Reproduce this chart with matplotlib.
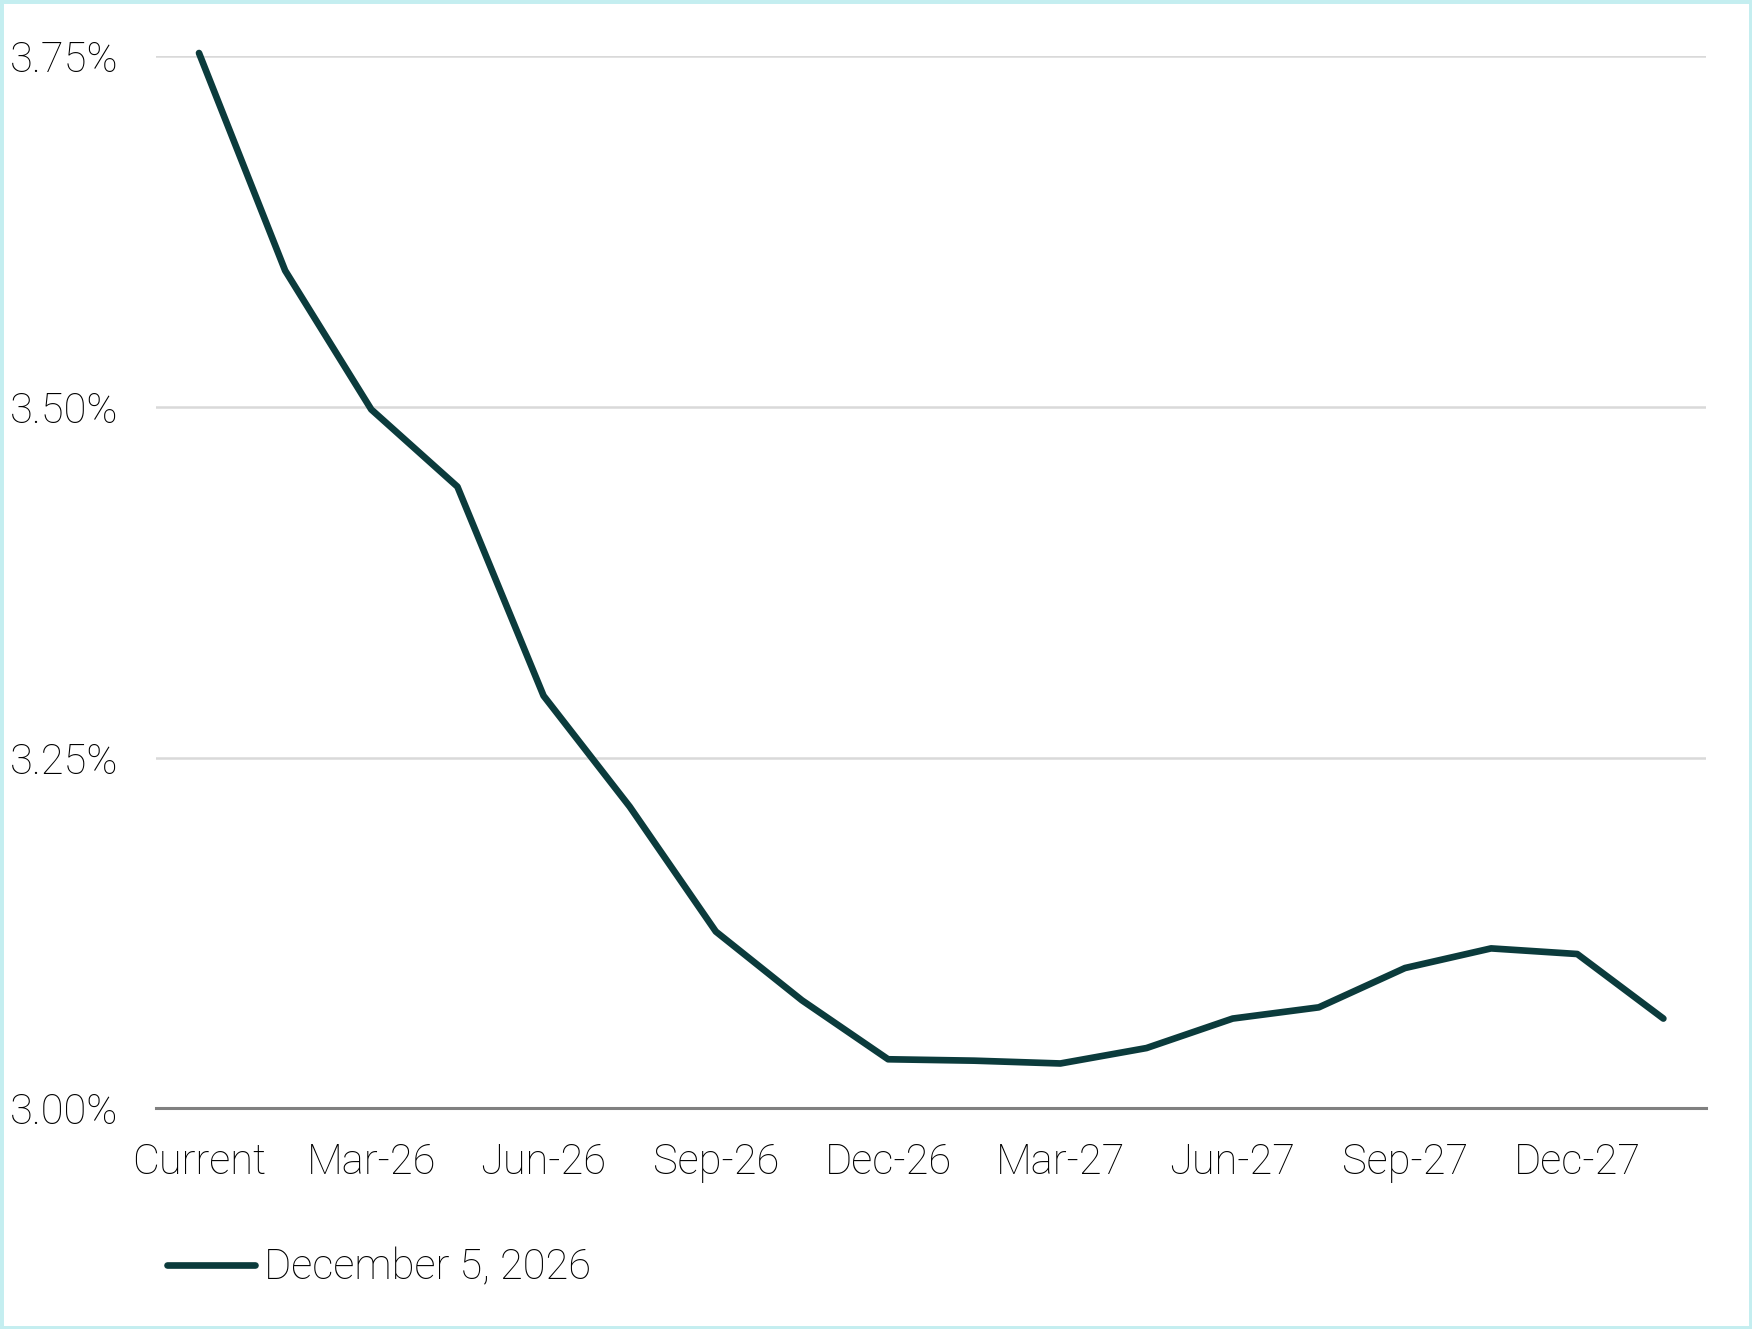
import matplotlib
matplotlib.use("Agg")
import matplotlib.pyplot as plt
from matplotlib.ticker import FuncFormatter
from matplotlib.patches import Rectangle

# ---- data ----
categories = ["Current", "Jan-26", "Mar-26", "Apr-26", "Jun-26", "Jul-26", "Sep-26", "Oct-26",
              "Dec-26", "Jan-27", "Mar-27", "Apr-27", "Jun-27", "Jul-27", "Sep-27", "Oct-27",
              "Dec-27", "Jan-28"]
rates = [3.752, 3.597, 3.498, 3.443, 3.294, 3.215, 3.126, 3.077,
         3.035, 3.034, 3.032, 3.043, 3.064, 3.072, 3.100, 3.114,
         3.110, 3.064]
series_label = "December 5, 2026"
y_ticks = [3.00, 3.25, 3.50, 3.75]

line_color = "#0b3b3c"
plt.rcParams['font.family'] = ['Roboto', 'DejaVu Sans']
plt.rcParams['font.weight'] = 'light'

fig = plt.figure(figsize=(17.52, 13.29), dpi=100)
fig.patch.set_facecolor("white")
ax = fig.add_axes([0.089, 0.166, 0.885, 0.792])

x = list(range(len(categories)))
ax.plot(x, rates, color=line_color, linewidth=4.8, solid_joinstyle="round",
        solid_capstyle="round", label=series_label, clip_on=False, zorder=3)

ax.set_xlim(-0.5, len(categories) - 0.5)
ax.set_ylim(3.0, 3.75)
ax.set_yticks(y_ticks)
ax.yaxis.set_major_formatter(FuncFormatter(lambda v, p: f"{v:.2f}%"))
ax.set_xticks(x[::2])
ax.set_xticklabels(categories[::2])

ax.grid(axis="y", color="#d9d9d9", linewidth=1.8, zorder=0)
ax.grid(axis="x", visible=False)
for s in ["top", "right", "left"]:
    ax.spines[s].set_visible(False)
ax.spines["bottom"].set_color("#808080")
ax.spines["bottom"].set_linewidth(2.2)
ax.spines["bottom"].set_zorder(2)

ax.tick_params(axis="both", length=0, labelsize=30, colors="#000000")
ax.tick_params(axis="y", pad=27)
ax.tick_params(axis="x", pad=24)

leg = fig.legend(loc="center left", bbox_to_anchor=(0.074, 0.046), frameon=False,
                 fontsize=30, handlelength=2.1, handletextpad=0.22)
for t in leg.get_texts():
    t.set_color("#000000")

fig.patches.append(Rectangle((0, 0), 1, 1, transform=fig.transFigure, fill=False,
                             edgecolor="#c4eef0", linewidth=5, zorder=10))

fig.savefig("out.png", dpi=100)
